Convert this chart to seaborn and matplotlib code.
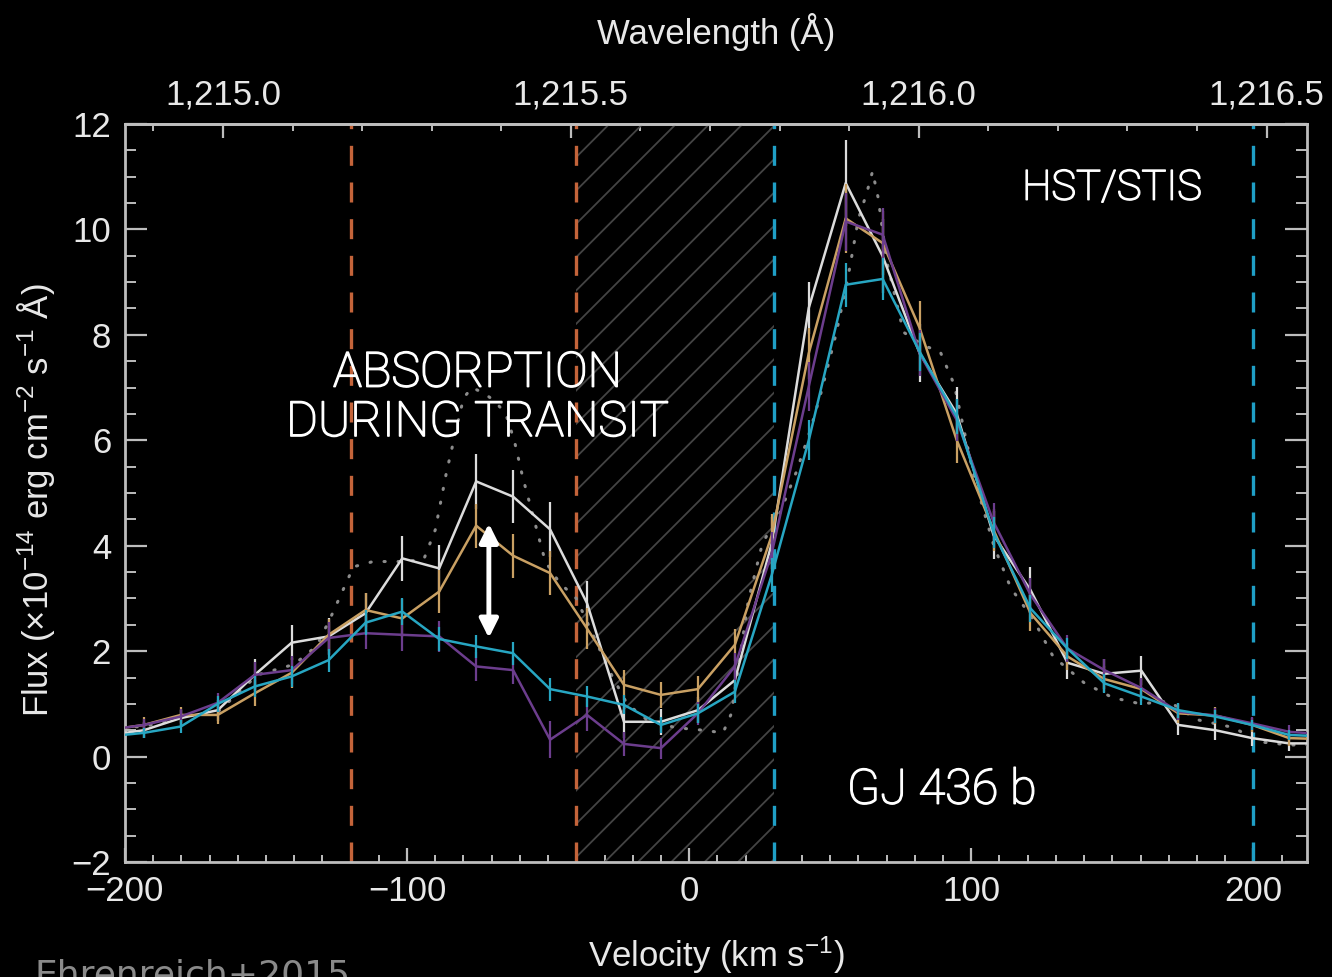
import numpy as np
import pandas as pd
import matplotlib
matplotlib.use("Agg")
import matplotlib.pyplot as plt
import matplotlib.patheffects as pe
import seaborn as sns
from matplotlib.ticker import MultipleLocator, FuncFormatter

# ---------------- data ----------------
velocity = [-206.4, -193.3, -180.2, -167.1, -154.0, -140.9, -127.8, -114.7,
            -101.7, -88.6, -75.5, -62.4, -49.3, -36.2, -23.1, -10.0, 3.1,
            16.2, 29.3, 42.4, 55.5, 68.6, 81.7, 94.8, 107.9, 121.0, 134.1,
            147.2, 160.3, 173.4, 186.5, 199.6, 212.7, 225.8]

flux_white = [0.40, 0.50, 0.73, 0.88, 1.55, 2.16, 2.28, 2.72, 3.76, 3.57,
              5.22, 4.93, 4.31, 2.91, 0.66, 0.66, 0.88, 1.45, 4.05, 8.51,
              10.88, 9.49, 7.65, 6.51, 4.20, 3.16, 1.78, 1.57, 1.63, 0.60,
              0.50, 0.35, 0.25, 0.25]
err_white = [0.15, 0.15, 0.15, 0.20, 0.30, 0.33, 0.35, 0.38, 0.43, 0.45,
             0.52, 0.50, 0.52, 0.42, 0.30, 0.25, 0.25, 0.30, 0.50, 0.50,
             0.82, 0.70, 0.55, 0.50, 0.45, 0.44, 0.30, 0.28, 0.27, 0.20,
             0.18, 0.15, 0.15, 0.15]

flux_tan = [0.50, 0.60, 0.79, 0.79, 1.20, 1.59, 2.31, 2.78, 2.62, 3.13,
            4.38, 3.81, 3.48, 2.43, 1.36, 1.17, 1.28, 2.12, 4.20, 7.65,
            10.21, 9.74, 8.13, 6.01, 4.30, 2.72, 1.90, 1.47, 1.28, 0.82,
            0.78, 0.60, 0.35, 0.33]
err_tan = [0.15, 0.15, 0.15, 0.18, 0.25, 0.28, 0.30, 0.32, 0.36, 0.40,
           0.42, 0.42, 0.42, 0.38, 0.28, 0.24, 0.24, 0.30, 0.40, 0.48,
           0.65, 0.60, 0.52, 0.45, 0.40, 0.34, 0.26, 0.24, 0.22, 0.18,
           0.16, 0.14, 0.14, 0.14]

flux_purple = [0.50, 0.60, 0.76, 1.02, 1.55, 1.64, 2.25, 2.34, 2.31, 2.28,
               1.71, 1.64, 0.32, 0.79, 0.24, 0.16, 0.82, 1.71, 3.86, 7.02,
               10.15, 9.90, 7.65, 6.39, 4.45, 3.07, 2.05, 1.64, 1.30, 0.85,
               0.78, 0.63, 0.47, 0.42]
err_purple = [0.12, 0.12, 0.14, 0.18, 0.25, 0.27, 0.30, 0.30, 0.30, 0.30,
              0.27, 0.27, 0.35, 0.30, 0.22, 0.20, 0.22, 0.26, 0.40, 0.46,
              0.55, 0.50, 0.44, 0.40, 0.36, 0.32, 0.25, 0.22, 0.20, 0.16,
              0.14, 0.12, 0.12, 0.12]

flux_cyan = [0.38, 0.45, 0.57, 1.00, 1.33, 1.52, 1.83, 2.54, 2.75, 2.23,
             2.09, 1.96, 1.28, 1.14, 0.98, 0.60, 0.82, 1.23, 3.45, 6.00,
             8.95, 9.06, 7.68, 6.45, 4.25, 2.81, 2.05, 1.39, 1.14, 0.88,
             0.76, 0.60, 0.41, 0.38]
err_cyan = [0.10, 0.10, 0.12, 0.15, 0.20, 0.20, 0.22, 0.24, 0.25, 0.23,
            0.22, 0.22, 0.22, 0.20, 0.18, 0.16, 0.18, 0.22, 0.32, 0.38,
            0.42, 0.40, 0.36, 0.34, 0.30, 0.26, 0.20, 0.18, 0.16, 0.14,
            0.12, 0.10, 0.10, 0.10]

model_velocity = [-206, -193, -180, -167, -153, -140, -132, -127, -119, -112,
                  -100, -94, -90, -86, -83, -80, -77, -73, -69, -65, -62,
                  -59, -55, -51, -46, -40, -34, -28, -22, -15, -5, 5, 12,
                  15, 21, 26, 32, 38, 43, 47, 52, 56, 60, 63, 65, 67, 70,
                  76, 83, 89, 94, 101, 108, 114, 122, 129, 140, 150, 160,
                  170, 180, 193, 202, 213, 222]
model_flux = [0.55, 0.57, 0.75, 0.85, 1.55, 1.75, 2.10, 2.65, 3.60, 3.70,
              3.70, 3.75, 4.30, 5.40, 6.10, 6.80, 7.00, 6.90, 6.75, 6.50,
              6.00, 5.30, 4.50, 3.70, 3.30, 3.00, 2.30, 1.60, 1.00, 0.70,
              0.55, 0.50, 0.45, 0.82, 2.97, 4.05, 4.60, 5.40, 6.20, 6.95,
              8.00, 9.00, 10.20, 10.70, 11.10, 10.60, 9.40, 8.05, 7.80, 7.68,
              7.05, 5.30, 4.00, 3.20, 2.60, 1.90, 1.40, 1.12, 1.00, 1.05,
              0.70, 0.55, 0.28, 0.22, 0.22]

series_names = ["out of transit 1", "out of transit 2", "pre-transit", "in transit"]
series_colors = ["#dcdcdc", "#c9a063", "#6c3d8d", "#27a6c2"]

blue_band = [-120, -40]
red_band = [30, 200]
hatch_band = [-40, 30]
arrow_x = -71
arrow_y = [2.25, 4.42]
LYA = 1215.6701
C_KMS = 299792.458

# ---------------- style ----------------
sns.set_theme(style="dark")
plt.rcParams["font.family"] = ["Liberation Sans", "DejaVu Sans"]
plt.rcParams["mathtext.fontset"] = "custom"
plt.rcParams["mathtext.rm"] = "Liberation Sans"
plt.rcParams["mathtext.it"] = "Liberation Sans:italic"
plt.rcParams["mathtext.default"] = "regular"
plt.rcParams["hatch.color"] = "#444444"
plt.rcParams["hatch.linewidth"] = 1.3
plt.rcParams["axes.unicode_minus"] = True

fig = plt.figure(figsize=(13.32, 9.77), dpi=100, facecolor="black")
ax = fig.add_axes([0.0938, 0.1177, 0.8874, 0.7554])
ax.set_facecolor("black")

# hatched region
ax.axvspan(hatch_band[0], hatch_band[1], facecolor="none", edgecolor="#444444",
           hatch="/", linewidth=0, zorder=1)

# vertical dashed limits
for v in blue_band:
    ax.axvline(v, color="#c4643a", lw=2.4, dashes=(6, 5), zorder=2)
for v in red_band:
    ax.axvline(v, color="#1f9fc6", lw=2.4, dashes=(6, 5), zorder=2)

# model (dotted)
sns.lineplot(x=model_velocity, y=model_flux, color="#8c8c8c", lw=2.2,
             linestyle=(0, (0.4, 4.2)), dash_capstyle="round", ax=ax,
             zorder=3, legend=False)

# observed spectra
frames = []
for name, f, e in zip(series_names,
                      [flux_white, flux_tan, flux_purple, flux_cyan],
                      [err_white, err_tan, err_purple, err_cyan]):
    frames.append(pd.DataFrame({"velocity": velocity, "flux": f, "err": e,
                                "series": name}))
df = pd.concat(frames, ignore_index=True)
palette = dict(zip(series_names, series_colors))

for i, name in enumerate(series_names):
    sub = df[df["series"] == name]
    ax.vlines(sub["velocity"], sub["flux"] - sub["err"], sub["flux"] + sub["err"],
              colors=palette[name], lw=1.6, zorder=4 + i)
    sns.lineplot(data=sub, x="velocity", y="flux", color=palette[name],
                 lw=1.8, ax=ax, zorder=4 + i, legend=False)

# axes limits
ax.set_xlim(-200, 219)
ax.set_ylim(-2, 12)
ax.set_xlabel("")
ax.set_ylabel("")

# ticks
ax.xaxis.set_major_locator(MultipleLocator(100))
ax.xaxis.set_minor_locator(MultipleLocator(10))
ax.yaxis.set_major_locator(MultipleLocator(2))
ax.yaxis.set_minor_locator(MultipleLocator(0.5))
tick_c = "#bdbdbd"
lab_c = "#e8e8e8"
ax.tick_params(axis="x", which="major", direction="in", length=10, width=1.6,
               color=tick_c, bottom=True, top=False, labelsize=25,
               labelcolor=lab_c, pad=9)
ax.tick_params(axis="x", which="minor", direction="in", length=5, width=1.4,
               color=tick_c, bottom=True, top=False)
ax.tick_params(axis="y", which="major", direction="in", length=16, width=1.6,
               color=tick_c, left=True, right=True, labelsize=25,
               labelcolor=lab_c, pad=10)
ax.tick_params(axis="y", which="minor", direction="in", length=8, width=1.4,
               color=tick_c, left=True, right=True)

for s in ax.spines.values():
    s.set_color(tick_c)
    s.set_linewidth(2.0)
    s.set_visible(True)

# top wavelength axis
def v2l(v):
    return LYA * (1 + np.asarray(v) / C_KMS)

def l2v(l):
    return (np.asarray(l) / LYA - 1) * C_KMS

sec = ax.secondary_xaxis("top", functions=(v2l, l2v))
sec.xaxis.set_major_locator(MultipleLocator(0.5))
sec.xaxis.set_minor_locator(MultipleLocator(0.1))
sec.xaxis.set_major_formatter(FuncFormatter(lambda x, p: f"{x:,.1f}"))
sec.tick_params(axis="x", which="major", direction="in", length=10, width=1.6,
                color=tick_c, labelsize=25, labelcolor=lab_c, pad=9)
sec.tick_params(axis="x", which="minor", direction="in", length=5, width=1.4,
                color=tick_c)
sec.spines["top"].set_color(tick_c)
sec.spines["top"].set_linewidth(2.0)

# axis labels
fig.text(716 / 1332, 1 - 32 / 977, "Wavelength (Å)", color=lab_c, fontsize=25,
         ha="center", va="center")
fig.text(716 / 1332, 1 - 955 / 977, "Velocity (km s$^{-1}$)", color=lab_c,
         fontsize=25, ha="center", va="center")
fig.text(36 / 1332, 1 - 500 / 977,
         "Flux (×10$^{-14}$ erg cm$^{-2}$ s$^{-1}$ Å)", color=lab_c,
         fontsize=25, ha="center", va="center", rotation=90)

# annotations
ann_font = ["Roboto", "DejaVu Sans"]
thicken = [pe.withStroke(linewidth=1.1, foreground="white")]
ax.text(0.835, 0.913, "HST/STIS", transform=ax.transAxes, color="white",
        fontsize=30, family=ann_font, fontweight="light", ha="center",
        va="center", path_effects=thicken)
ax.text(0.691, 0.097, "GJ 436 b", transform=ax.transAxes, color="white",
        fontsize=35, family=ann_font, fontweight="light", ha="center",
        va="center", path_effects=thicken)
ax.text(-75, 6.8, "ABSORPTION\nDURING TRANSIT", color="white", fontsize=35,
        family=ann_font, fontweight="light", ha="center", va="center",
        linespacing=1.08, zorder=10, path_effects=thicken)

ax.annotate("", xy=(arrow_x, arrow_y[1]), xytext=(arrow_x, arrow_y[0]),
            arrowprops=dict(arrowstyle="<|-|>", color="white", lw=3.5,
                            mutation_scale=28, shrinkA=0, shrinkB=0),
            zorder=12)

fig.text(34 / 1332, -8 / 977, "Ehrenreich+2015", color="#8a8a8a", fontsize=26,
         family=["DejaVu Sans"], ha="left", va="baseline")

fig.savefig("out.png", dpi=100, facecolor="black")
